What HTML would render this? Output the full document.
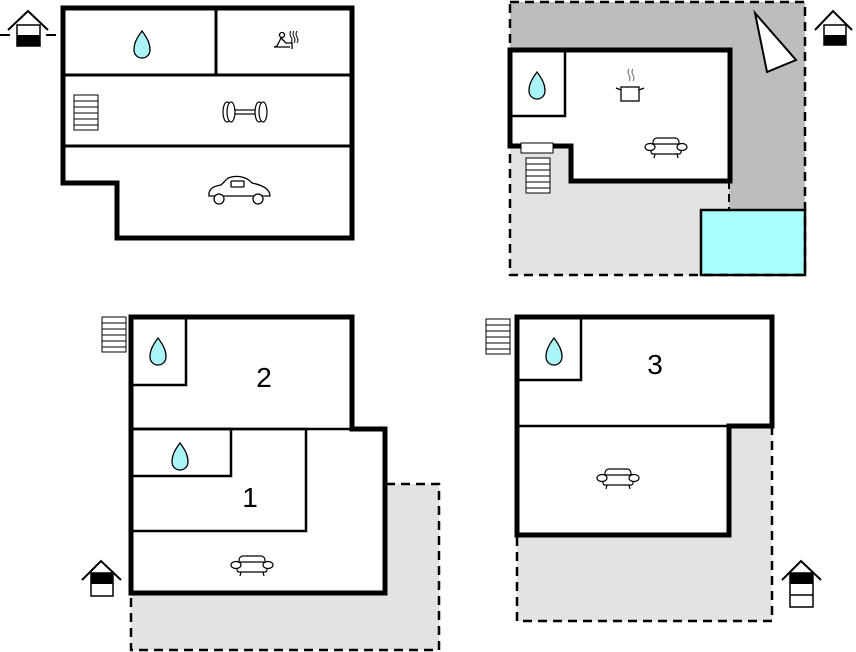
<!DOCTYPE html>
<html><head><meta charset="utf-8"><style>html,body{margin:0;padding:0;background:#fff}svg{display:block}</style></head>
<body>
<svg width="856" height="652" viewBox="0 0 856 652" xmlns="http://www.w3.org/2000/svg">
<defs>
<path id="drop" d="M0,-14 C6,-6 8,-1 8,5 A8,8 0 0 1 -8,5 C-8,-1 -6,-6 0,-14 Z" fill="#aaf3f7" stroke="#000" stroke-width="1.3"/>
<g id="sofa" fill="#fff" stroke="#000" stroke-width="1.2">
<rect x="-13" y="-10" width="26" height="12" rx="4"/>
<rect x="-15" y="-4" width="30" height="10" rx="2"/>
<ellipse cx="-16" cy="-1" rx="5" ry="3.5"/>
<ellipse cx="16" cy="-1" rx="5" ry="3.5"/>
<line x1="-11" y1="6" x2="-12" y2="10"/><line x1="11" y1="6" x2="12" y2="10"/>
</g>
<g id="stairs" fill="#fff" stroke="#000" stroke-width="1">
<rect x="0" y="0" width="24" height="35"/>
<line x1="0" y1="6" x2="24" y2="6"/><line x1="0" y1="12" x2="24" y2="12"/><line x1="0" y1="18" x2="24" y2="18"/><line x1="0" y1="24" x2="24" y2="24"/><line x1="0" y1="30" x2="24" y2="30"/>
</g>
</defs>

<!-- TOP LEFT -->
<polygon points="63,8 352,8 352,238 117,238 117,183 63,183" fill="#fff" stroke="#000" stroke-width="5"/>
<line x1="63" y1="75" x2="352" y2="75" stroke="#000" stroke-width="3"/>
<line x1="63" y1="146" x2="352" y2="146" stroke="#000" stroke-width="3"/>
<line x1="216" y1="8" x2="216" y2="75" stroke="#000" stroke-width="3"/>
<use href="#drop" x="142" y="45"/>
<g fill="none" stroke="#000" stroke-width="1.3">
<circle cx="282" cy="35" r="2.5"/>
<path d="M281,38 L277,46 L274,47 M281,38 L286,43 L292,43 L292,49 M274,47 L290,47"/>
<path d="M291,31 q-2,3 0,6 q2,3 0,6 M294,31 q-2,3 0,6 q2,3 0,6 M297,31 q-2,3 0,6 q2,3 0,6" stroke-width="1"/>
</g>
<use href="#stairs" x="74" y="95"/>
<g fill="#fff" stroke="#000" stroke-width="1.2">
<rect x="228" y="110" width="34" height="4"/>
<ellipse cx="227" cy="112" rx="4" ry="10"/><ellipse cx="231" cy="112" rx="4" ry="10"/>
<ellipse cx="259" cy="112" rx="4" ry="10"/><ellipse cx="263" cy="112" rx="4" ry="10"/>
</g>
<g fill="#fff" stroke="#000" stroke-width="1.3">
<path d="M209,196 C208,188 215,186 221,185 L228,178 C236,175 246,176 252,183 C262,185 270,189 270,196 Z"/>
<rect x="231" y="181" width="13" height="6" rx="1"/>
<circle cx="219" cy="199" r="5"/><circle cx="258" cy="199" r="5"/>
</g>
<g stroke="#000" stroke-width="2" fill="none">
<polyline points="8,30 28,11 48,30"/>
<line x1="0" y1="35" x2="10" y2="35"/><line x1="46" y1="35" x2="56" y2="35"/>
</g>
<rect x="17" y="25" width="23" height="21" fill="#fff" stroke="#000" stroke-width="1.5"/>
<rect x="17" y="35" width="23" height="11" fill="#000"/>

<!-- TOP RIGHT -->
<rect x="510" y="2" width="295" height="273" fill="#e3e3e3"/>
<polygon points="510,2 805,2 805,210 729,210 729,50 510,50" fill="#bdbdbd"/>
<rect x="701" y="210" width="104" height="65" fill="#aaffff" stroke="#000" stroke-width="2.5"/>
<rect x="510" y="2" width="295" height="273" fill="none" stroke="#000" stroke-width="2.5" stroke-dasharray="9,6"/>
<line x1="729" y1="181" x2="729" y2="210" stroke="#000" stroke-width="2" stroke-dasharray="8,5"/>
<polygon points="510,50 730,50 730,181 571,181 571,146 510,146" fill="#fff" stroke="#000" stroke-width="5"/>
<rect x="510" y="51" width="55" height="65" fill="none" stroke="#000" stroke-width="2.5"/>
<use href="#drop" x="537" y="86"/>
<rect x="521" y="143" width="32" height="10" fill="#fff" stroke="#000" stroke-width="1"/>
<use href="#stairs" x="526" y="158"/>
<polygon points="755,13 796,60 767,72" fill="#fff" stroke="#000" stroke-width="2"/>
<g fill="#fff" stroke="#000" stroke-width="1.3">
<rect x="621" y="87" width="18" height="14"/>
<path d="M621,90 L616,88 M639,90 L644,88"/>
<path d="M629,69 q-2,3 0,6 q2,3 0,6 M633,69 q-2,3 0,6 q2,3 0,6" fill="none" stroke="#666" stroke-width="1"/>
</g>
<use href="#sofa" x="666" y="148"/>
<g stroke="#000" stroke-width="2" fill="none"><polyline points="815,30 833,11 852,30"/></g>
<rect x="824" y="25" width="22" height="20" fill="#fff" stroke="#000" stroke-width="1.5"/>
<rect x="824" y="35" width="22" height="10" fill="#000"/>

<!-- BOTTOM LEFT -->
<rect x="131" y="484" width="308" height="166" fill="#e3e3e3" stroke="#000" stroke-width="2.5" stroke-dasharray="9,6"/>
<polygon points="131,317 352,317 352,429 385,429 385,593 131,593" fill="#fff" stroke="#000" stroke-width="5"/>
<rect x="131" y="317" width="55" height="68" fill="none" stroke="#000" stroke-width="2.5"/>
<line x1="131" y1="429" x2="352" y2="429" stroke="#000" stroke-width="2.5"/>
<rect x="131" y="429" width="100" height="47" fill="none" stroke="#000" stroke-width="2.5"/>
<rect x="131" y="429" width="175" height="102" fill="none" stroke="#000" stroke-width="2.5"/>
<use href="#drop" x="158" y="352"/>
<use href="#drop" x="180" y="457"/>
<text x="264" y="387" font-family="Liberation Sans, sans-serif" font-size="28" text-anchor="middle">2</text>
<text x="250" y="507" font-family="Liberation Sans, sans-serif" font-size="28" text-anchor="middle">1</text>
<use href="#sofa" x="252" y="566"/>
<use href="#stairs" x="102" y="317"/>
<g stroke="#000" stroke-width="2" fill="none"><polyline points="82,580 101,561 121,580"/></g>
<rect x="91" y="573" width="22" height="23" fill="#fff" stroke="#000" stroke-width="1.5"/>
<rect x="91" y="573" width="22" height="11" fill="#000"/>

<!-- BOTTOM RIGHT -->
<rect x="517" y="426" width="255" height="195" fill="#e3e3e3" stroke="#000" stroke-width="2.5" stroke-dasharray="9,6"/>
<polygon points="517,317 772,317 772,426 729,426 729,535 517,535" fill="#fff" stroke="#000" stroke-width="5"/>
<rect x="517" y="317" width="64" height="63" fill="none" stroke="#000" stroke-width="2.5"/>
<line x1="517" y1="426" x2="729" y2="426" stroke="#000" stroke-width="2.5"/>
<use href="#drop" x="554" y="352"/>
<text x="655" y="374" font-family="Liberation Sans, sans-serif" font-size="28" text-anchor="middle">3</text>
<use href="#sofa" x="618" y="479"/>
<use href="#stairs" x="486" y="319"/>
<g stroke="#000" stroke-width="2" fill="none"><polyline points="782,580 801,561 821,580"/></g>
<rect x="790" y="573" width="23" height="34" fill="#fff" stroke="#000" stroke-width="1.5"/>
<rect x="790" y="573" width="23" height="11" fill="#000"/>
<line x1="790" y1="595" x2="813" y2="595" stroke="#000" stroke-width="1.5"/>
</svg>
</body></html>
